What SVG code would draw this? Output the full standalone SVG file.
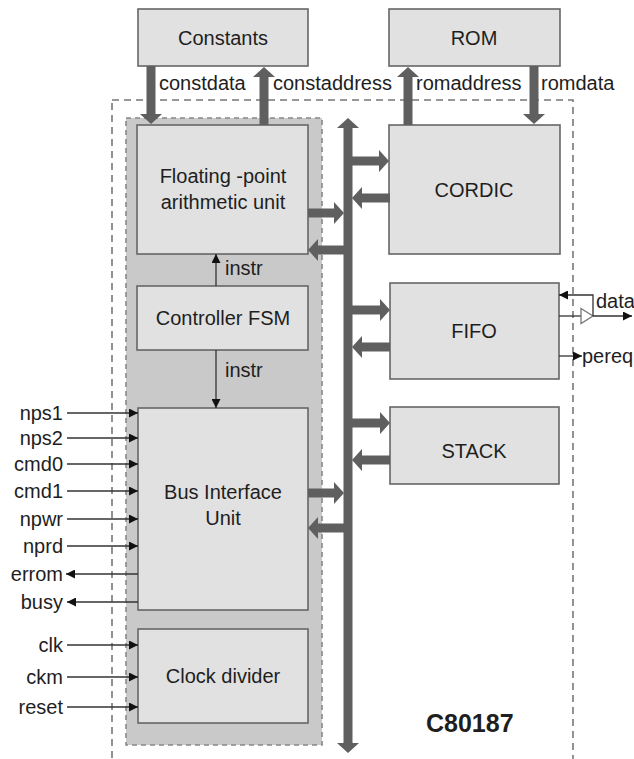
<svg xmlns="http://www.w3.org/2000/svg" width="634" height="759" viewBox="0 0 634 759">
<style>
text{font-family:"Liberation Sans",Arial,sans-serif;font-size:20px;fill:#1e1e1e}
.c{text-anchor:middle}
.r{text-anchor:end}
.box{fill:#e1e1e1;stroke:#666;stroke-width:1.6}
.thick{stroke:#5f5f5f;stroke-width:9;fill:none}
.thin{stroke:#333;stroke-width:1.3;fill:none}
</style>
<defs>
<marker id="big" viewBox="0 0 10 22" markerWidth="10" markerHeight="22" refX="0" refY="11" orient="auto-start-reverse" markerUnits="userSpaceOnUse">
<path d="M0,0 L10,11 L0,22 z" fill="#5f5f5f"/>
</marker>
<marker id="sm" viewBox="0 0 9 9" markerWidth="9" markerHeight="9" refX="9" refY="4.5" orient="auto" markerUnits="userSpaceOnUse">
<path d="M0,0 L9,4.5 L0,9 z" fill="#111"/>
</marker>
</defs>
<rect width="634" height="759" fill="#fff"/>
<g id="chip-boundary">
<rect x="112" y="100" width="461" height="690" fill="none" stroke="#777" stroke-width="1.6" stroke-dasharray="7 5"/>
</g>
<g id="core-group">
<rect x="126" y="118" width="196" height="627" fill="#c9c9c9" stroke="#888" stroke-width="1.6" stroke-dasharray="5 4"/>
</g>
<g id="constants"><rect class="box" x="138" y="9" width="170" height="57"/><text class="c" x="223" y="45">Constants</text></g>
<g id="rom"><rect class="box" x="389" y="9" width="171" height="57"/><text class="c" x="474" y="45">ROM</text></g>
<g id="fpu"><rect class="box" x="137" y="125" width="171" height="129"/><text class="c" x="223" y="183">Floating -point</text><text class="c" x="223" y="209">arithmetic unit</text></g>
<g id="fsm"><rect class="box" x="137" y="286" width="171" height="64"/><text class="c" x="223" y="325">Controller FSM</text></g>
<g id="biu"><rect class="box" x="138" y="408" width="170" height="202"/><text class="c" x="223" y="499">Bus Interface</text><text class="c" x="223" y="525">Unit</text></g>
<g id="clockdiv"><rect class="box" x="138" y="629" width="170" height="94"/><text class="c" x="223" y="683">Clock divider</text></g>
<g id="cordic"><rect class="box" x="389" y="125" width="171" height="129"/><text class="c" x="474" y="197">CORDIC</text></g>
<g id="fifo"><rect class="box" x="390" y="283" width="169" height="96"/><text class="c" x="474" y="338">FIFO</text></g>
<g id="stack"><rect class="box" x="390" y="407" width="169" height="77"/><text class="c" x="474" y="458">STACK</text></g>
<g id="title"><text x="426" y="732" style="font-weight:bold;font-size:25px">C80187</text></g>
<g id="connectors">
<line class="thick" x1="151" y1="66" x2="151" y2="114" marker-end="url(#big)"/>
<line class="thick" x1="264" y1="125" x2="264" y2="77" marker-end="url(#big)"/>
<line class="thick" x1="408" y1="125" x2="408" y2="77" marker-end="url(#big)"/>
<line class="thick" x1="534" y1="66" x2="534" y2="114" marker-end="url(#big)"/>
<line class="thick" x1="348" y1="128" x2="348" y2="743" marker-start="url(#big)" marker-end="url(#big)"/>
<line class="thick" x1="352" y1="161" x2="379" y2="161" marker-end="url(#big)"/>
<line class="thick" x1="390" y1="198" x2="362" y2="198" marker-end="url(#big)"/>
<line class="thick" x1="308" y1="213" x2="334" y2="213" marker-end="url(#big)"/>
<line class="thick" x1="344" y1="250" x2="318" y2="250" marker-end="url(#big)"/>
<line class="thick" x1="352" y1="310" x2="380" y2="310" marker-end="url(#big)"/>
<line class="thick" x1="390" y1="347" x2="362" y2="347" marker-end="url(#big)"/>
<line class="thick" x1="352" y1="423" x2="380" y2="423" marker-end="url(#big)"/>
<line class="thick" x1="390" y1="460" x2="362" y2="460" marker-end="url(#big)"/>
<line class="thick" x1="308" y1="493" x2="334" y2="493" marker-end="url(#big)"/>
<line class="thick" x1="344" y1="528" x2="318" y2="528" marker-end="url(#big)"/>
<line class="thin" x1="216" y1="286" x2="216" y2="254" marker-end="url(#sm)"/>
<line class="thin" x1="216" y1="350" x2="216" y2="408" marker-end="url(#sm)"/>
<line class="thin" x1="67" y1="413" x2="138" y2="413" marker-end="url(#sm)"/>
<line class="thin" x1="67" y1="438" x2="138" y2="438" marker-end="url(#sm)"/>
<line class="thin" x1="67" y1="464" x2="138" y2="464" marker-end="url(#sm)"/>
<line class="thin" x1="67" y1="491" x2="138" y2="491" marker-end="url(#sm)"/>
<line class="thin" x1="67" y1="519" x2="138" y2="519" marker-end="url(#sm)"/>
<line class="thin" x1="67" y1="546" x2="138" y2="546" marker-end="url(#sm)"/>
<line class="thin" x1="138" y1="574" x2="66" y2="574" marker-end="url(#sm)"/>
<line class="thin" x1="138" y1="602" x2="67" y2="602" marker-end="url(#sm)"/>
<line class="thin" x1="67" y1="645" x2="138" y2="645" marker-end="url(#sm)"/>
<line class="thin" x1="67" y1="677" x2="138" y2="677" marker-end="url(#sm)"/>
<line class="thin" x1="67" y1="707" x2="138" y2="707" marker-end="url(#sm)"/>
<line class="thin" x1="559" y1="316" x2="581" y2="316"/>
<path d="M581,308.5 L593,316 L581,323.5 z" fill="#fff" stroke="#777" stroke-width="1.3"/>
<line class="thin" x1="593" y1="316" x2="632" y2="316" marker-end="url(#sm)"/>
<polyline class="thin" points="593,316 593,295 559,295" marker-end="url(#sm)"/>
<line class="thin" x1="559" y1="356" x2="582" y2="356" marker-end="url(#sm)"/>
</g>
<g id="labels">
<text x="159" y="90">constdata</text>
<text x="273" y="90">constaddress</text>
<text x="416" y="90">romaddress</text>
<text x="541" y="90">romdata</text>
<text x="225" y="275">instr</text>
<text x="225" y="377">instr</text>
<text class="r" x="63" y="420">nps1</text>
<text class="r" x="63" y="445">nps2</text>
<text class="r" x="63" y="471">cmd0</text>
<text class="r" x="63" y="498">cmd1</text>
<text class="r" x="63" y="526">npwr</text>
<text class="r" x="63" y="553">nprd</text>
<text class="r" x="63" y="581">errom</text>
<text class="r" x="63" y="609">busy</text>
<text class="r" x="63" y="652">clk</text>
<text class="r" x="63" y="684">ckm</text>
<text class="r" x="63" y="714">reset</text>
<text x="596" y="308">data</text>
<text x="582" y="363">pereq</text>
</g>
</svg>
